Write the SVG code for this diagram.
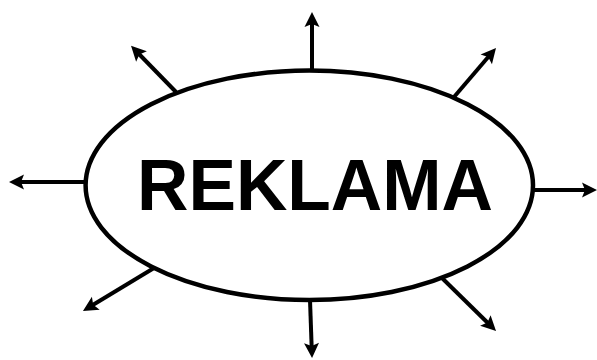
<svg xmlns="http://www.w3.org/2000/svg" width="597" height="360" viewBox="0 0 597 360">
  <style>
    .conn { stroke: #000; stroke-width: 4; fill: none; marker-end: url(#ah); }
    .oval { fill: #fff; stroke: #000; stroke-width: 4.5; }
    .lbl { font-family: "Liberation Sans", Arial, sans-serif; font-weight: bold; font-size: 73px; fill: #000; }
  </style>
  <defs>
    <marker id="ah" markerUnits="userSpaceOnUse" markerWidth="18" markerHeight="18" refX="5" refY="7.5" orient="auto" overflow="visible">
      <path d="M0,0 L15,7.5 L0,15 L3,7.5 Z" fill="#000"/>
    </marker>
  </defs>
  <g id="connectors">
    <line class="conn" x1="312" y1="70" x2="312" y2="22"/>
    <line class="conn" x1="176" y1="92" x2="138" y2="53"/>
    <line class="conn" x1="454" y1="97" x2="489.5" y2="55.5"/>
    <line class="conn" x1="86" y1="182" x2="19" y2="182"/>
    <line class="conn" x1="533" y1="190" x2="587" y2="190"/>
    <line class="conn" x1="310" y1="300" x2="311.7" y2="348"/>
    <line class="conn" x1="154" y1="268" x2="91.5" y2="305.8"/>
    <line class="conn" x1="442" y1="278" x2="488.9" y2="324"/>
  </g>
  <g id="reklama">
    <ellipse class="oval" cx="309.3" cy="185.3" rx="223.7" ry="114.7"/>
    <text class="lbl" x="137" y="210" textLength="356" lengthAdjust="spacingAndGlyphs">REKLAMA</text>
  </g>
</svg>
